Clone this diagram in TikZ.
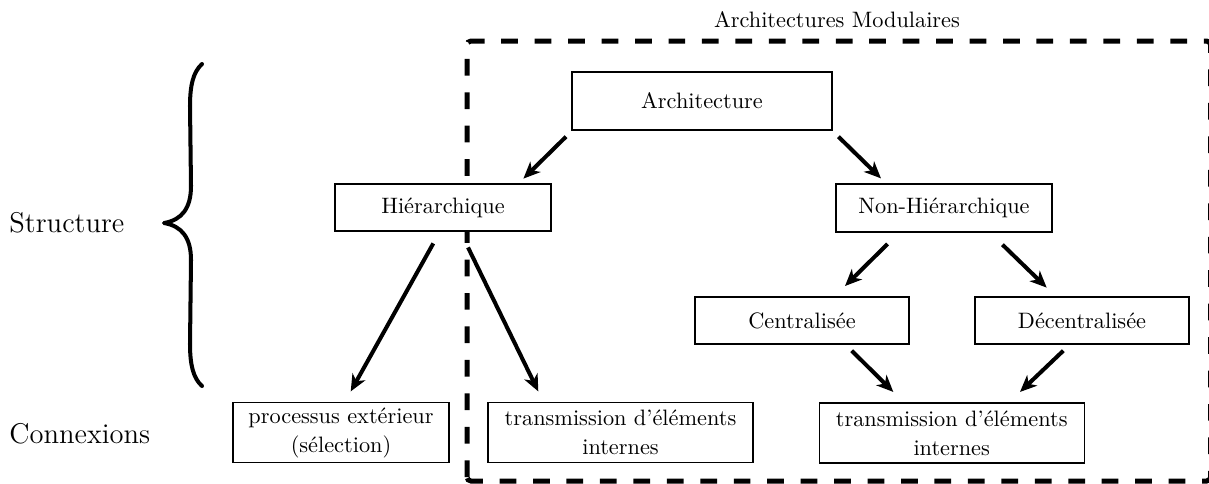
\documentclass[tikz,border=0pt]{standalone}
\usetikzlibrary{arrows.meta}
\begin{document}
\begin{tikzpicture}[x=0.4484pt,y=-0.4484pt,
  box/.style={draw,fill=white,line width=0.6pt,inner sep=0pt,align=center,font=\fontsize{10}{13}\selectfont},
  arr/.style={line width=1.8pt,-{Stealth[length=7.5pt,width=6.5pt,inset=2.2pt]}},
  side/.style={anchor=west,inner sep=0pt,font=\fontsize{12.8}{15}\selectfont},
  frame/.style={line width=2.25pt,dash pattern=on 7.5pt off 7.5pt,rounded corners=1.8pt}]
\useasboundingbox (0,0) rectangle (1209,483);

% dashed frame
\draw[frame] (467,481) -- (467,41) -- (1210.6,41) -- (1210.6,481) -- cycle;
\node[anchor=base,inner sep=0pt,font=\fontsize{10}{12}\selectfont] (toplabel) at (837,27) {Architectures Modulaires};

% side labels
\node[side] (structure) at (9,223) {Structure};
\node[side] (connexions) at (9,434) {Connexions};
\draw[line width=1.8pt,line join=round,line cap=round] (202,64) .. controls (193,72) and (190,86) .. (190,106)
  -- (191,186) .. controls (191,208) and (182,220) .. (164,223)
  .. controls (182,226) and (191,238) .. (191,260)
  -- (190,344) .. controls (190,364) and (193,378) .. (202,386);

% nodes
\node[box,minimum width=116.6pt,minimum height=26pt] (arch) at (702,101) {Architecture};
\node[box,minimum width=96.9pt,minimum height=21.1pt] (hier) at (443,207.5) {Hiérarchique};
\node[box,minimum width=96.9pt,minimum height=21.5pt] (nonhier) at (944,208) {Non-Hiérarchique};
\node[box,minimum width=96pt,minimum height=21.1pt] (central) at (802,320.5) {Centralisée};
\node[box,minimum width=96pt,minimum height=21.1pt] (decentral) at (1082,320.5) {Décentralisée};
\node[box,minimum width=96.9pt,minimum height=27pt] (proc) at (341,432.5) {processus extérieur\\(sélection)};
\node[box,minimum width=118.8pt,minimum height=27pt] (tr1) at (620.5,432.5) {transmission d’éléments\\internes};
\node[box,minimum width=118.8pt,minimum height=27pt] (tr2) at (951.7,433) {transmission d’éléments\\internes};

% arrows
\draw[arr] ([shift={(-5.3,6)}]arch.south west) -- ([shift={(-28.3,-4.7)}]hier.north east);
\draw[arr] ([shift={(5.7,6)}]arch.south east) -- ([shift={(45.7,-5)}]nonhier.north west);
\draw[arr] ([shift={(52.3,11.3)}]nonhier.south west) -- ([shift={(43,-10.3)}]central.north);
\draw[arr] ([shift={(-50.3,12)}]nonhier.south east) -- ([shift={(-35.3,-8.7)}]decentral.north);
\draw[arr] ([shift={(49.7,6)}]central.south) -- ([shift={(-58.4,-10.3)}]tr2.north);
\draw[arr] ([shift={(-18.7,6)}]decentral.south) -- ([shift={(68.3,-10.3)}]tr2.north);
\draw[arr] ([shift={(-9.7,11.7)}]hier.south) -- ([shift={(9.7,-10.3)}]proc.north);
\draw[arr] ([shift={(25,15.7)}]hier.south) -- ([shift={(-82.2,-10.3)}]tr1.north);
\end{tikzpicture}
\end{document}
